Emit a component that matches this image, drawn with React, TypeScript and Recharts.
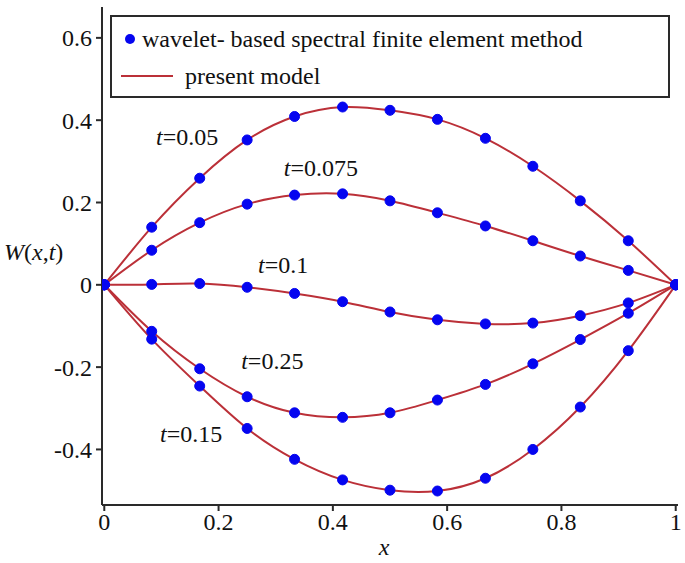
import React from 'react';
import { ComposedChart, Line, XAxis, YAxis, ReferenceDot, Label } from 'recharts';

// x positions of the grid nodes (0 .. 1 in twelfths)
const xs = [0, 0.083, 0.167, 0.25, 0.333, 0.417, 0.5, 0.583, 0.667, 0.75, 0.833, 0.917, 1];

// W(x,t), one array per time
const w005 = [0, 0.140, 0.259, 0.352, 0.409, 0.432, 0.424, 0.402, 0.356, 0.288, 0.204, 0.107, 0];
const w0075 = [0, 0.084, 0.151, 0.196, 0.218, 0.221, 0.204, 0.175, 0.143, 0.107, 0.070, 0.035, 0];
const w01 = [0, 0.001, 0.003, -0.006, -0.021, -0.041, -0.066, -0.085, -0.095, -0.093, -0.075, -0.044, 0];
const w015 = [0, -0.132, -0.246, -0.349, -0.424, -0.474, -0.499, -0.501, -0.470, -0.400, -0.297, -0.160, 0];
const w025 = [0, -0.113, -0.204, -0.272, -0.311, -0.322, -0.311, -0.280, -0.242, -0.192, -0.133, -0.069, 0];

const seriesKeys = ['w005', 'w0075', 'w01', 'w015', 'w025'];

const xTicks = [0, 0.2, 0.4, 0.6, 0.8, 1];
const yTicks = [-0.4, -0.2, 0, 0.2, 0.4, 0.6];

// curve labels: text and anchor (data coords)
const curveLabels = [
  { t: '0.05', x: 0.145, y: 0.359 },
  { t: '0.075', x: 0.379, y: 0.284 },
  { t: '0.1', x: 0.313, y: 0.048 },
  { t: '0.25', x: 0.294, y: -0.185 },
  { t: '0.15', x: 0.152, y: -0.362 },
];

const data = xs.map((x, i) => ({
  x,
  w005: w005[i],
  w0075: w0075[i],
  w01: w01[i],
  w015: w015[i],
  w025: w025[i],
}));

const FONT = 'Liberation Serif';
const FS = 24;
const RED = '#bb3038';
const BLUE = '#0505f0';
const AXIS = '#2a2a2a';

const tickStyle = { fontFamily: FONT, fontSize: FS, fill: '#111' };

const CurveLabel = (props: any) => {
  const { cx, cy, t } = props;
  return (
    <text x={cx} y={cy} textAnchor="middle" dominantBaseline="central"
      fontFamily={FONT} fontSize={FS} fill="#111">
      <tspan fontStyle="italic">t</tspan>
      <tspan>={t}</tspan>
    </text>
  );
};

const YTitle = (props: any) => {
  const vb = props.viewBox || { x: 0, y: 0, height: 0 };
  return (
    <text x={vb.x + 4} y={vb.y + vb.height / 2 - 4} dominantBaseline="central"
      fontFamily={FONT} fontSize={FS} fill="#111">
      <tspan fontStyle="italic">W</tspan>
      <tspan>(</tspan>
      <tspan fontStyle="italic">x</tspan>
      <tspan>,</tspan>
      <tspan fontStyle="italic">t</tspan>
      <tspan>)</tspan>
    </text>
  );
};

const XTitle = (props: any) => {
  const vb = props.viewBox || { x: 0, y: 0, width: 0 };
  return (
    <text x={vb.x + vb.width / 2 - 6} y={vb.y + 50} textAnchor="middle"
      fontFamily={FONT} fontSize={FS} fontStyle="italic" fill="#111">x</text>
  );
};

export default function App() {
  return (
    <div style={{ position: 'absolute', left: 0, top: 0, width: 685, height: 563, background: '#fff' }}>
      <ComposedChart width={685} height={563} data={data}
        margin={{ top: 7, right: 7, left: 0, bottom: 0 }}>
        <XAxis dataKey="x" type="number" domain={[-0.004, 1.004]} ticks={xTicks}
          allowDataOverflow tick={tickStyle} tickSize={6} tickMargin={2}
          stroke={AXIS} strokeWidth={2} height={58} interval={0}>
          <Label content={<XTitle />} />
        </XAxis>
        <XAxis xAxisId="top" orientation="top" type="number" domain={[-0.004, 1.004]}
          tick={false} tickLine={false} stroke={AXIS} strokeWidth={2} height={0} />
        <YAxis type="number" domain={[-0.535, 0.675]} ticks={yTicks} allowDataOverflow
          tick={tickStyle} tickSize={6} tickMargin={4} stroke={AXIS} strokeWidth={2}
          width={102} interval={0}>
          <Label content={<YTitle />} />
        </YAxis>
        <YAxis yAxisId="right" orientation="right" type="number" domain={[-0.535, 0.675]}
          tick={false} tickLine={false} stroke={AXIS} strokeWidth={2} width={0} />

        {seriesKeys.map((k) => (
          <Line key={'l' + k} dataKey={k} type="natural" stroke={RED} strokeWidth={2}
            dot={false} isAnimationActive={false} />
        ))}
        {seriesKeys.map((k) => (
          <Line key={'p' + k} dataKey={k} stroke="none"
            dot={{ r: 5, fill: BLUE, stroke: BLUE, strokeWidth: 1 }}
            activeDot={false} isAnimationActive={false} />
        ))}

        {curveLabels.map((c) => (
          <ReferenceDot key={c.t} x={c.x} y={c.y} r={0}
            shape={(p: any) => <CurveLabel {...p} t={c.t} />} />
        ))}
      </ComposedChart>

      <div style={{
        position: 'absolute', left: 110, top: 15, width: 556, height: 79,
        border: `2px solid ${AXIS}`, background: '#fff', fontFamily: FONT,
        fontSize: FS, color: '#111',
      }}>
        <div style={{ position: 'absolute', left: 0, top: 7, height: 30, display: 'flex', alignItems: 'center' }}>
          <span style={{ display: 'inline-block', width: 10, height: 10, borderRadius: 5, background: BLUE, marginLeft: 13, marginRight: 7 }} />
          <span>wavelet- based spectral finite element method</span>
        </div>
        <div style={{ position: 'absolute', left: 0, top: 44, height: 30, display: 'flex', alignItems: 'center' }}>
          <span style={{ display: 'inline-block', width: 52, height: 2, background: RED, marginLeft: 9, marginRight: 12 }} />
          <span>present model</span>
        </div>
      </div>
    </div>
  );
}
